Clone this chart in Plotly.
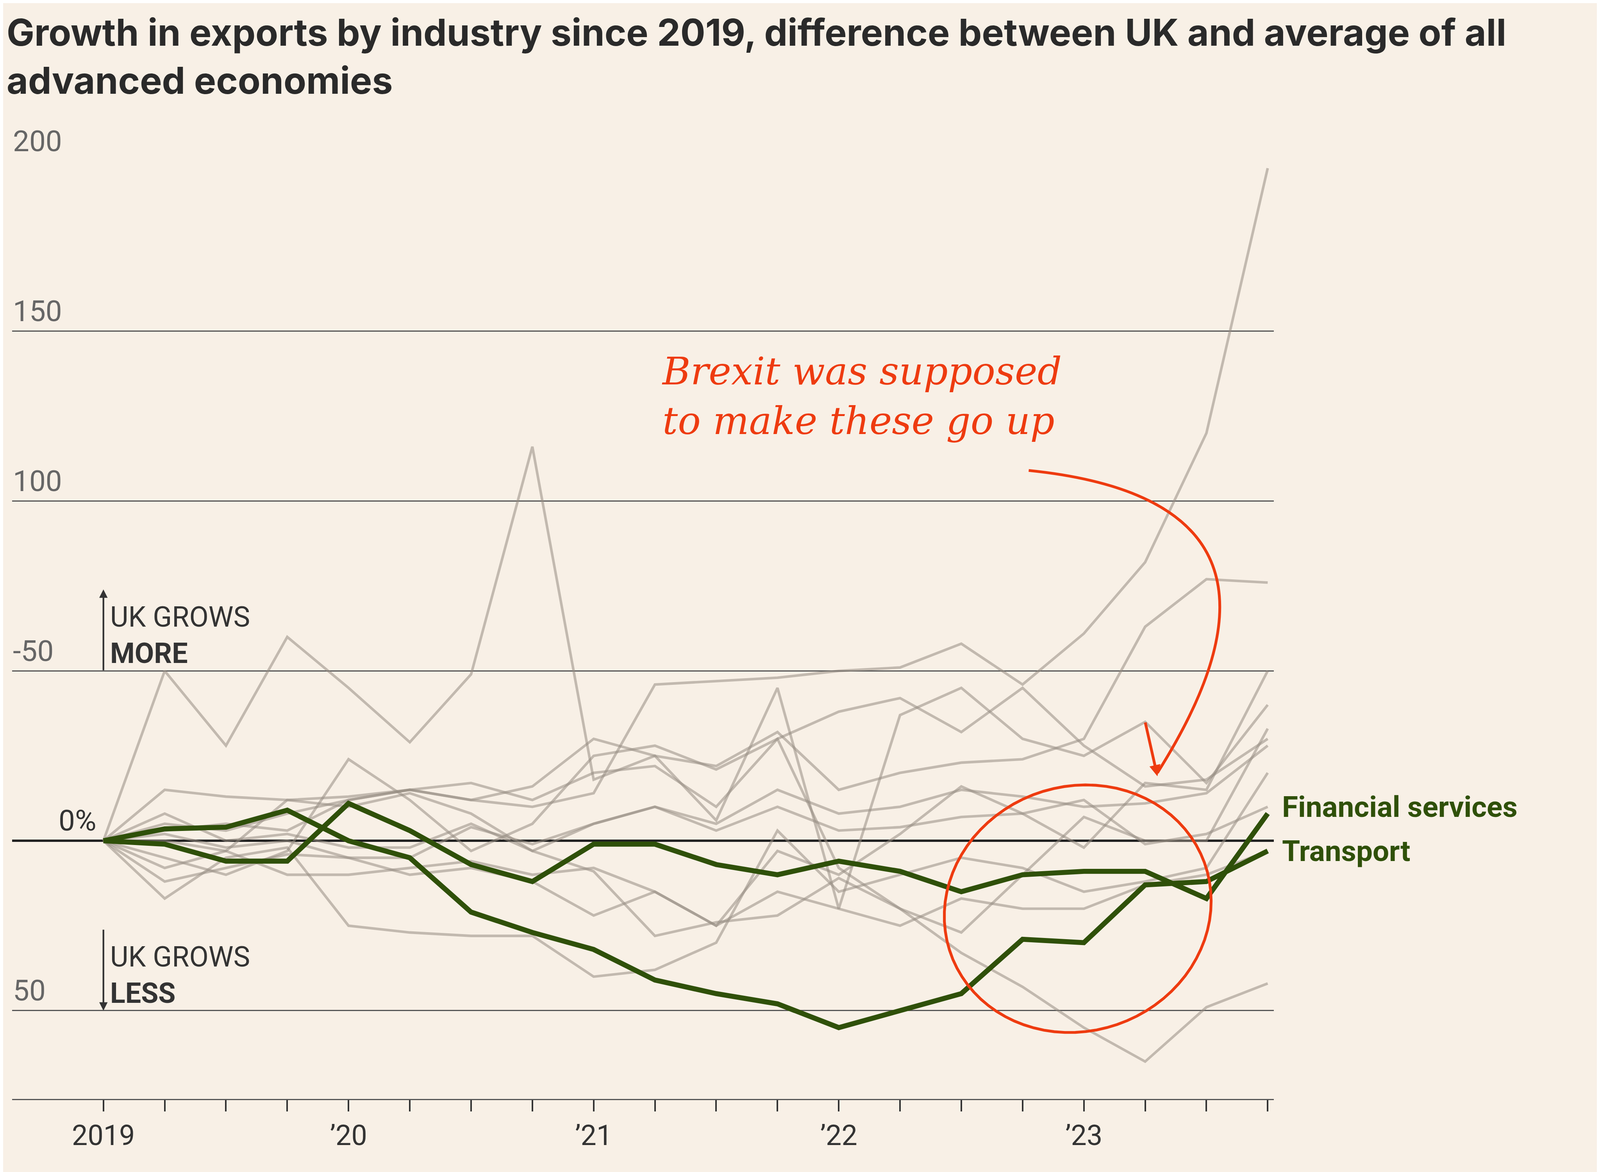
import plotly.graph_objects as go
import numpy as np

quarters = list(range(20))
year_ticks = ["2019", "", "", "", "’20", "", "", "", "’21", "", "", "", "’22", "", "", "", "’23", "", "", ""]

financial = [0, -1, -6, -6, 11, 3, -7, -12, -1, -1, -7, -10, -6, -9, -15, -10, -9, -9, -17, 8]
transport = [0, 3.5, 4, 9, 0, -5, -21, -27, -32, -41, -45, -48, -55, -50, -45, -29, -30, -13, -12, -3]

grey_lines = [
    [0, 5, 3, 8, 12, 15, 12, 10, 14, 46, 47, 48, 50, 51, 58, 46, 61, 82, 120, 198],
    [0, 50, 28, 60, 45, 29, 49, 116, 18, 25, 6, 45, -20, 37, 45, 30, 25, 35, 17, 40],
    [0, 15, 13, 12, 13, 15, 12, 16, 30, 25, 22, 32, 15, 20, 23, 24, 30, 63, 77, 76],
    [0, -5, -10, -3, 24, 12, -3, 5, 25, 28, 21, 30, -8, -20, -33, -43, -55, -65, -49, -42],
    [0, 8, 0, 2, -2, -2, 5, -3, 5, 10, 3, 10, 3, 4, 7, 8, -2, 17, 15, 50],
    [0, -8, -3, -10, -10, -8, -6, -10, -8, -15, -25, -15, -20, -25, -17, -20, -20, -13, -10, -3],
    [0, -17, -5, -2, -25, -27, -28, -28, -40, -38, -30, 3, -15, -10, -5, -8, -15, -12, -8, 20],
    [0, 3, 5, 3, 12, 15, 17, 12, 20, 22, 10, 30, 38, 42, 32, 45, 28, 16, 18, 30],
    [0, 0, -3, 12, 10, 14, 8, -3, -9, -28, -24, -22, -11, -20, -27, -10, 7, 0, 0, 33],
    [0, 2, -2, 0, -5, -5, 4, -1, 5, 10, 5, 15, 8, 10, 15, 13, 10, 11, 14, 28],
    [0, -12, -8, -4, -5, -10, -8, -12, -22, -15, -25, -3, -10, 2, 16, 8, 12, -1, 2, 10],
]

ytick_vals = [200, 150, 100, 50, -50]
ytick_text = ["200", "150", "100", "-50", "50"]

S = 2.87
BG = "#f8f0e6"
GREEN = "#2f5009"
RED = "#ee3b10"

fig = go.Figure()
for g in grey_lines:
    fig.add_trace(go.Scatter(x=quarters, y=g, mode="lines",
                             line=dict(color="rgba(150,140,130,0.55)", width=2.3 * S),
                             hoverinfo="skip", showlegend=False))
for s in [transport, financial]:
    fig.add_trace(go.Scatter(x=quarters, y=s, mode="lines",
                             line=dict(color=GREEN, width=4.5 * S), showlegend=False))

fig.update_layout(
    autosize=True, paper_bgcolor=BG, plot_bgcolor=BG,
    margin=dict(l=23, r=827, t=405, b=195),
    font=dict(family="Roboto", color="#333"),
    xaxis=dict(range=[-1.49, 19.1], tickvals=quarters, ticktext=year_ticks,
               ticks="outside", ticklen=10 * S, tickwidth=1.5 * S, tickcolor="#333",
               showgrid=False, zeroline=False, showline=True, linecolor="#555", linewidth=1.2 * S,
               tickfont=dict(size=25 * S, color="#333", family="Roboto")),
    yaxis=dict(range=[-76, 200], tickvals=ytick_vals, showticklabels=False,
               gridcolor="#555", gridwidth=1.1 * S, zeroline=True, zerolinecolor="#222",
               zerolinewidth=2 * S),
)

fig.add_annotation(text="<b>Growth in exports by industry since 2019, difference between UK and average of all<br>advanced economies</b>",
                   xref="paper", yref="paper", x=-0.005, y=1.0, yshift=390, xanchor="left", yanchor="top",
                   align="left", showarrow=False, font=dict(size=33 * S, color="#2a2a2a", family="Inter"))

for v, t in zip(ytick_vals, ytick_text):
    fig.add_annotation(text=t, x=-1.49, y=v, xref="x", yref="y", xanchor="left", yanchor="bottom",
                       yshift=2 * S, showarrow=False, font=dict(size=26 * S, color="#666"))
fig.add_annotation(text="0%", x=-0.1, y=0, xanchor="right", yanchor="bottom", yshift=2 * S,
                   showarrow=False, font=dict(size=26 * S, color="#333"))

fig.add_annotation(x=0, y=74, ax=0, ay=50, axref="x", ayref="y", showarrow=True, text="",
                   arrowhead=2, arrowsize=1, arrowwidth=1.5 * S, arrowcolor="#333")
fig.add_annotation(x=0, y=-50, ax=0, ay=-26, axref="x", ayref="y", showarrow=True, text="",
                   arrowhead=2, arrowsize=1, arrowwidth=1.5 * S, arrowcolor="#333")
for y, t in [(50, "UK GROWS<br><b>MORE</b>"), (-50, "UK GROWS<br><b>LESS</b>")]:
    fig.add_annotation(text=t, x=0.1, y=y, xanchor="left", yanchor="bottom", align="left",
                       showarrow=False, font=dict(size=25 * S, color="#333"))

fig.add_annotation(text="<b>Financial services</b>", x=19, y=10, xanchor="left", xshift=12 * S,
                   showarrow=False, font=dict(size=26 * S, color=GREEN))
fig.add_annotation(text="<b>Transport</b>", x=19, y=-3, xanchor="left", xshift=12 * S,
                   showarrow=False, font=dict(size=26 * S, color=GREEN))

fig.add_annotation(text="<i>Brexit was supposed<br>to make these go up</i>", x=9.1, y=145,
                   xanchor="left", yanchor="top", align="left", showarrow=False,
                   font=dict(size=34 * S, color=RED, family="DejaVu Serif"))

fig.add_shape(type="path", path="M 15.1,109 Q 20,100 17.2,20", line=dict(color=RED, width=2.5 * S))
fig.add_annotation(x=17.2, y=19, ax=17.0, ay=35, axref="x", ayref="y", text="", showarrow=True,
                   arrowhead=2, arrowsize=0.8, arrowwidth=2.5 * S, arrowcolor=RED)
t = np.linspace(0, 2 * np.pi, 80)
cx, cy, a, b, rot = 15.9, -20, 2.2, 36, 0.35
xs = cx + a * np.cos(t) * np.cos(rot) - (b / 18) * np.sin(t) * np.sin(rot)
ys = cy + b * np.sin(t) * np.cos(rot) + (a * 18) * np.cos(t) * np.sin(rot)
path = "M " + " L ".join(f"{x:.3f},{y:.3f}" for x, y in zip(xs, ys)) + " Z"
fig.add_shape(type="path", path=path, line=dict(color=RED, width=2.5 * S))

fig.write_html("out.html", config={"responsive": True}, default_width="100%", default_height="100vh")
